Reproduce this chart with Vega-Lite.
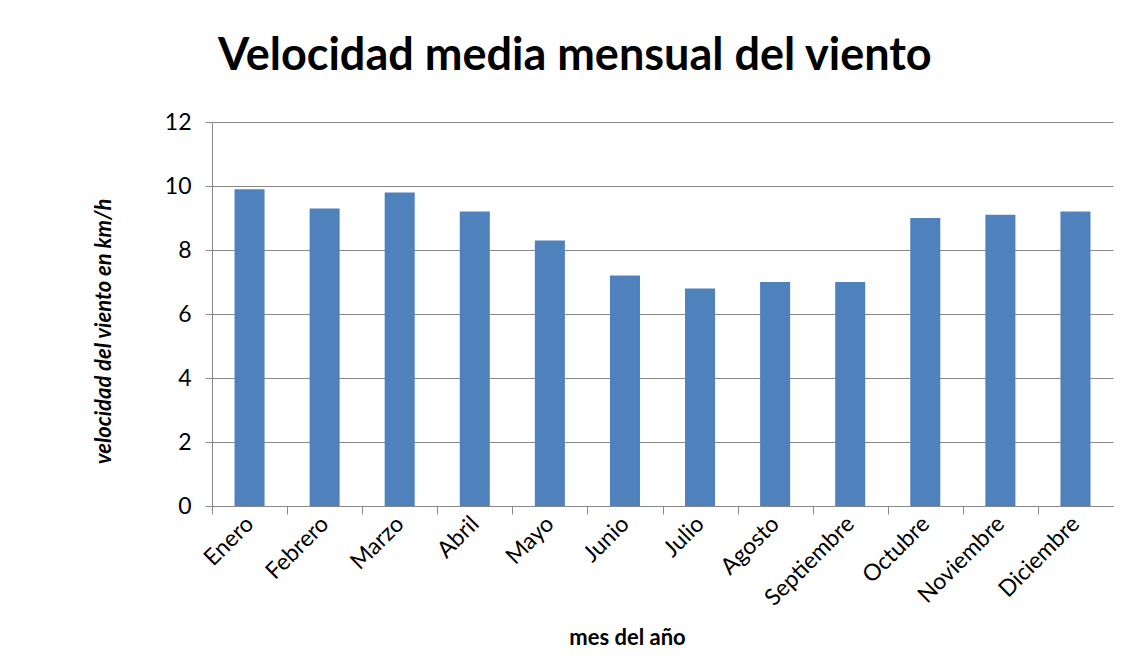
{
  "$schema": "https://vega.github.io/schema/vega-lite/v6.json",
  "autosize": {"type": "none"},
  "width": 901,
  "height": 384,
  "padding": {"left": 212, "top": 122, "right": 29, "bottom": 160},
  "background": "white",
  "title": {
    "text": "Velocidad media mensual del viento",
    "anchor": "start",
    "frame": "group",
    "dx": 6,
    "dy": 50,
    "baseline": "alphabetic",
    "offset": 46,
    "font": "Lato",
    "fontSize": 45,
    "fontWeight": "bold",
    "color": "#000000"
  },
  "data": {
    "values": [
      {"mes": "Enero", "velocidad": 9.9},
      {"mes": "Febrero", "velocidad": 9.3},
      {"mes": "Marzo", "velocidad": 9.8},
      {"mes": "Abril", "velocidad": 9.2},
      {"mes": "Mayo", "velocidad": 8.3},
      {"mes": "Junio", "velocidad": 7.2},
      {"mes": "Julio", "velocidad": 6.8},
      {"mes": "Agosto", "velocidad": 7.0},
      {"mes": "Septiembre", "velocidad": 7.0},
      {"mes": "Octubre", "velocidad": 9.0},
      {"mes": "Noviembre", "velocidad": 9.1},
      {"mes": "Diciembre", "velocidad": 9.2}
    ]
  },
  "mark": {"type": "bar", "color": "#4F81BD"},
  "encoding": {
    "x": {
      "field": "mes",
      "type": "nominal",
      "sort": null,
      "scale": {"paddingInner": 0.6, "paddingOuter": 0.3},
      "axis": {
        "title": "mes del año",
        "titleFont": "Lato",
        "titleFontSize": 22,
        "titleFontWeight": "bold",
        "titleColor": "#000000",
        "titleX": 415,
        "titleY": 131,
        "titleBaseline": "middle",
        "titleAlign": "center",
        "labelAngle": -45,
        "labelAlign": "right",
        "labelBaseline": "middle",
        "labelFont": "Lato",
        "labelFontSize": 23,
        "labelColor": "#000000",
        "labelPadding": 6,
        "tickOffset": -37.5,
        "labelOffset": 37.5,
        "tickSize": 8,
        "tickColor": "#888888",
        "domainColor": "#888888",
        "grid": false
      }
    },
    "y": {
      "field": "velocidad",
      "type": "quantitative",
      "scale": {"domain": [0, 12], "nice": false},
      "axis": {
        "values": [0, 2, 4, 6, 8, 10, 12],
        "title": "velocidad del viento en km/h",
        "titleFont": "Lato",
        "titleFontSize": 22,
        "titleFontWeight": "bold",
        "titleFontStyle": "italic",
        "titleColor": "#000000",
        "titleAngle": -90,
        "titleX": -109,
        "titleY": 209,
        "titleBaseline": "middle",
        "titleAlign": "center",
        "labelFont": "Lato",
        "labelFontSize": 23,
        "labelColor": "#000000",
        "labelPadding": 14,
        "tickSize": 7,
        "tickColor": "#888888",
        "domainColor": "#888888",
        "grid": true,
        "gridColor": "#888888",
        "gridOpacity": 1
      }
    }
  },
  "config": {
    "view": {"stroke": null}
  }
}
